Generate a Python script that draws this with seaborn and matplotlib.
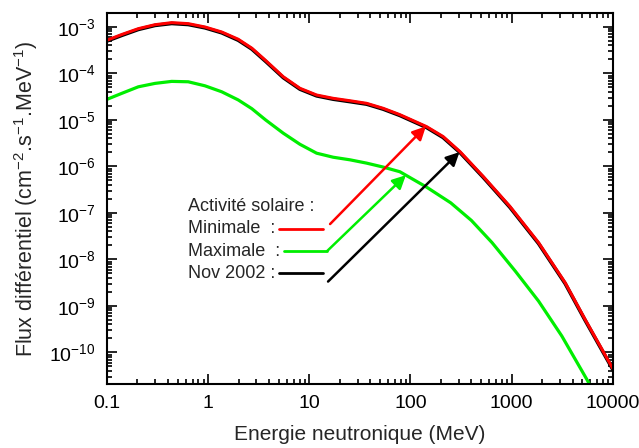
import numpy as np
import matplotlib
matplotlib.use("Agg")
import matplotlib.pyplot as plt
import matplotlib.ticker as ticker
import seaborn as sns

# Energies (MeV) and differential neutron flux
energy_min = [0.1, 0.14, 0.204, 0.298, 0.436, 0.635, 0.929, 1.36, 1.98, 2.7,
              3.7, 5.52, 8.07, 11.8, 17.2, 25.2, 36.8, 53.7, 78.5, 144,
              210, 308, 523, 959, 1845, 3380, 5330, 10000]
flux_min = [5.2e-4, 6.9e-4, 9.2e-4, 1.12e-3, 1.24e-3, 1.18e-3, 1.0e-3, 7.8e-4,
            5.45e-4, 3.5e-4, 1.9e-4, 8.5e-5, 4.8e-5, 3.44e-5, 2.92e-5, 2.59e-5,
            2.28e-5, 1.78e-5, 1.3e-5, 7.2e-6, 4.4e-6, 2.09e-6, 6.1e-7, 1.39e-7,
            2.3e-8, 3.16e-9, 5.1e-10, 4.5e-11]

energy_nov = [0.1, 0.14, 0.204, 0.298, 0.436, 0.635, 0.929, 1.36, 1.98, 2.7,
              3.7, 5.52, 8.07, 11.8, 17.2, 25.2, 36.8, 53.7, 78.5, 144,
              210, 308, 523, 959, 1845, 3380, 5330, 10000]
flux_nov = [5.0e-4, 6.6e-4, 8.85e-4, 1.08e-3, 1.19e-3, 1.13e-3, 9.6e-4, 7.5e-4,
            5.2e-4, 3.35e-4, 1.82e-4, 8.15e-5, 4.6e-5, 3.3e-5, 2.8e-5, 2.48e-5,
            2.19e-5, 1.71e-5, 1.25e-5, 6.9e-6, 4.2e-6, 2.0e-6, 5.85e-7, 1.33e-7,
            2.2e-8, 3.03e-9, 4.9e-10, 4.3e-11]

energy_max = [0.1, 0.14, 0.204, 0.298, 0.436, 0.635, 0.929, 1.36, 1.98, 2.7,
              3.7, 5.52, 8.07, 11.8, 17.2, 25.2, 36.8, 53.7, 78.5, 144,
              250, 400, 640, 1087, 1845, 3130, 5520, 7500]
flux_max = [2.78e-5, 3.74e-5, 5.17e-5, 6.12e-5, 6.76e-5, 6.63e-5, 5.43e-5,
            4.04e-5, 2.7e-5, 1.75e-5, 1.0e-5, 5.2e-6, 3.0e-6, 1.93e-6,
            1.58e-6, 1.39e-6, 1.18e-6, 9.7e-7, 7.7e-7, 3.6e-7, 1.65e-7,
            6.9e-8, 2.3e-8, 5.6e-9, 1.27e-9, 2.26e-10, 2.66e-11, 7.8e-12]

# arrow targets (energy in MeV) on each curve
arrow_e = {"min": 142, "max": 90, "nov": 305}

x_ticks = [0.1, 1, 10, 100, 1000, 10000]
y_ticks = [1e-10, 1e-9, 1e-8, 1e-7, 1e-6, 1e-5, 1e-4, 1e-3]

sns.set_style("ticks")
plt.rcParams["font.family"] = ["Liberation Sans", "DejaVu Sans"]
plt.rcParams["mathtext.fontset"] = "custom"
plt.rcParams["mathtext.rm"] = "Liberation Sans"
plt.rcParams["mathtext.it"] = "Liberation Sans:italic"
plt.rcParams["mathtext.bf"] = "Liberation Sans:bold"

fig = plt.figure(figsize=(6.39, 4.48), dpi=100)
ax = fig.add_axes([0.1675, 0.143, 0.7915, 0.828])

RED, GREEN, BLACK = "#ff0000", "#00ee00", "#000000"

sns.lineplot(x=energy_max, y=flux_max, ax=ax, color=GREEN, lw=2.3, sort=False)
sns.lineplot(x=energy_nov, y=flux_nov, ax=ax, color=BLACK, lw=2.6, sort=False)
sns.lineplot(x=energy_min, y=flux_min, ax=ax, color=RED, lw=2.2, sort=False)

ax.set_xscale("log")
ax.set_yscale("log")
ax.set_xlim(0.1, 10000)
ax.set_ylim(2.1e-11, 2.0e-3)

ax.xaxis.set_major_locator(ticker.FixedLocator(x_ticks))
ax.xaxis.set_major_formatter(ticker.FuncFormatter(lambda v, p: f"{v:g}"))
ax.xaxis.set_minor_locator(ticker.LogLocator(base=10, subs=np.arange(2, 10), numticks=100))
ax.yaxis.set_major_locator(ticker.FixedLocator(y_ticks))
ax.yaxis.set_major_formatter(ticker.LogFormatterMathtext())
ax.yaxis.set_minor_locator(ticker.LogLocator(base=10, subs=np.arange(2, 10), numticks=100))
ax.xaxis.set_minor_formatter(ticker.NullFormatter())
ax.yaxis.set_minor_formatter(ticker.NullFormatter())

ax.tick_params(which="both", direction="in", top=True, right=True, width=1.2,
               labelsize=14, colors="black")
ax.tick_params(which="major", length=7, pad=8)
ax.tick_params(which="minor", length=3.5)
for s in ax.spines.values():
    s.set_linewidth(1.5)
    s.set_color("black")

ax.set_xlabel("Energie neutronique (MeV)", fontsize=15, labelpad=9)
ax.set_ylabel("Flux différentiel (cm$^{-2}$.s$^{-1}$.MeV$^{-1}$)", fontsize=15.5, labelpad=7)

# hand-made legend
tr = ax.transAxes
ax.text(0.160, 0.477, "Activité solaire :", transform=tr, fontsize=13, va="center")
ax.text(0.160, 0.418, "Minimale  :", transform=tr, fontsize=13, va="center")
ax.text(0.160, 0.358, "Maximale  :", transform=tr, fontsize=13, va="center")
ax.text(0.160, 0.299, "Nov 2002 :", transform=tr, fontsize=13, va="center")
ax.plot([0.340, 0.427], [0.417, 0.417], transform=tr, color=RED, lw=2)
ax.plot([0.350, 0.435], [0.358, 0.358], transform=tr, color=GREEN, lw=2)
ax.plot([0.340, 0.427], [0.298, 0.298], transform=tr, color=BLACK, lw=2)

def arrow(e, energies, fluxes, start, color):
    y = 10 ** np.interp(np.log10(e), np.log10(energies), np.log10(fluxes))
    ax.annotate("", xy=(e, y), xycoords="data", xytext=start, textcoords="axes fraction",
                arrowprops=dict(arrowstyle="-|>", color=color, lw=1.8,
                                mutation_scale=20, shrinkA=0, shrinkB=0))

arrow(arrow_e["min"], energy_min, flux_min, (0.441, 0.431), RED)
arrow(arrow_e["max"], energy_max, flux_max, (0.435, 0.358), GREEN)
arrow(arrow_e["nov"], energy_nov, flux_nov, (0.437, 0.276), BLACK)

fig.savefig("out.png", dpi=100)
